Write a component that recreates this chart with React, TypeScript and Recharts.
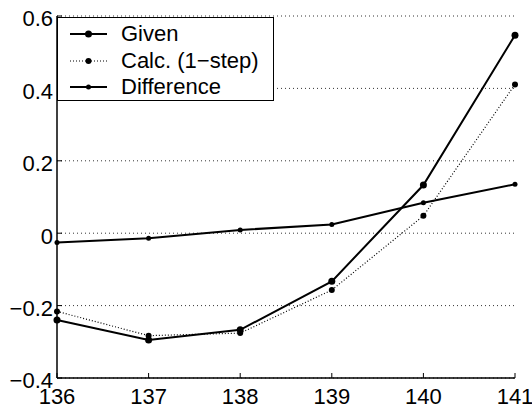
import { LineChart, Line, XAxis, YAxis, CartesianGrid, Legend } from 'recharts';

const years = [136, 137, 138, 139, 140, 141];
const given = [-0.24, -0.295, -0.267, -0.133, 0.133, 0.547];
const calc = [-0.216, -0.283, -0.276, -0.157, 0.048, 0.411];
const difference = [-0.026, -0.014, 0.009, 0.024, 0.084, 0.135];

const xTicks = [136, 137, 138, 139, 140, 141];
const yTicks = [-0.4, -0.2, 0, 0.2, 0.4, 0.6];

const data = years.map((x, i) => ({ x, given: given[i], calc: calc[i], difference: difference[i] }));

const FONT = '"Liberation Sans", Arial, sans-serif';
const FS = 22;

const legendItems = [
  { label: 'Given', dash: undefined as string | undefined, r: 3.5, width: 2 },
  { label: 'Calc. (1\u2212step)', dash: '1 2', r: 3, width: 1.2 },
  { label: 'Difference', dash: undefined as string | undefined, r: 2.5, width: 2 },
];

function LegendBox() {
  return (
    <div
      style={{
        width: 217,
        height: 84,
        border: '1.5px solid #000',
        background: '#fff',
        fontFamily: FONT,
        fontSize: FS,
        padding: '3px 0 0 0',
        boxSizing: 'border-box',
      }}
    >
      {legendItems.map((it) => (
        <div key={it.label} style={{ display: 'flex', alignItems: 'center', height: 26.5 }}>
          <svg width={52} height={20} style={{ marginLeft: 11, flex: 'none' }}>
            <line x1={1} y1={10} x2={38} y2={10} stroke="#000" strokeWidth={it.width} strokeDasharray={it.dash} />
            <circle cx={19.5} cy={10} r={it.r} fill="#000" />
          </svg>
          <span style={{ lineHeight: '22px' }}>{it.label}</span>
        </div>
      ))}
    </div>
  );
}

const fmt = (v: number) => String(v).replace('-', '\u2212');

function XTick(props: any) {
  return (
    <text x={props.x} y={props.y} dy="0.71em" textAnchor="middle" fill="#000" fontSize={FS} fontFamily={FONT}>
      {props.payload.value}
    </text>
  );
}

function YTick(props: any) {
  return (
    <text x={props.x} y={props.y} dy={FS * 0.355 + 2.5} textAnchor="end" fill="#000" fontSize={FS} fontFamily={FONT}>
      {fmt(props.payload.value)}
    </text>
  );
}

export default function App() {
  return (
    <div style={{ position: 'absolute', left: 0, top: 0, background: '#fff' }}>
      <LineChart width={532} height={407} data={data} margin={{ top: 16, right: 17, left: 0, bottom: 0 }}>
        <CartesianGrid vertical={false} stroke="#000" strokeDasharray="1 3" strokeWidth={0.8} />
        <XAxis
          dataKey="x"
          type="number"
          domain={[136, 141]}
          ticks={xTicks}
          height={29}
          tickSize={-5}
          tickMargin={15}
          tick={<XTick />}
          axisLine={{ stroke: '#000', strokeWidth: 1.5 }}
          tickLine={{ stroke: '#000' }}
        />
        <XAxis
          xAxisId="top"
          orientation="top"
          type="number"
          dataKey="x"
          domain={[136, 141]}
          ticks={xTicks}
          height={0}
          tickSize={-5}
          tick={false}
          axisLine={{ stroke: '#000', strokeWidth: 1.5 }}
          tickLine={{ stroke: '#000' }}
        />
        <YAxis
          type="number"
          domain={[-0.4, 0.6]}
          ticks={yTicks}
          width={57}
          tickSize={-5}
          tickMargin={9}
          tick={<YTick />}
          axisLine={{ stroke: '#000', strokeWidth: 1.5 }}
          tickLine={{ stroke: '#000' }}
        />
        <YAxis
          yAxisId="right"
          orientation="right"
          type="number"
          domain={[-0.4, 0.6]}
          ticks={yTicks}
          width={0}
          tickSize={-5}
          tick={false}
          axisLine={{ stroke: '#000', strokeWidth: 1.5 }}
          tickLine={{ stroke: '#000' }}
        />
        <Legend
          layout="vertical"
          align="center"
          verticalAlign="middle"
          content={() => <LegendBox />}
          wrapperStyle={{ position: 'absolute', left: 57, top: 17, width: 217 }}
        />
        <Line
          dataKey="calc"
          stroke="#000"
          strokeWidth={1.2}
          strokeDasharray="1 2"
          dot={{ r: 3, fill: '#000', stroke: 'none' }}
          isAnimationActive={false}
        />
        <Line
          dataKey="difference"
          stroke="#000"
          strokeWidth={2}
          dot={{ r: 2.5, fill: '#000', stroke: 'none' }}
          isAnimationActive={false}
        />
        <Line
          dataKey="given"
          stroke="#000"
          strokeWidth={2}
          dot={{ r: 3.5, fill: '#000', stroke: 'none' }}
          isAnimationActive={false}
        />
      </LineChart>
    </div>
  );
}
